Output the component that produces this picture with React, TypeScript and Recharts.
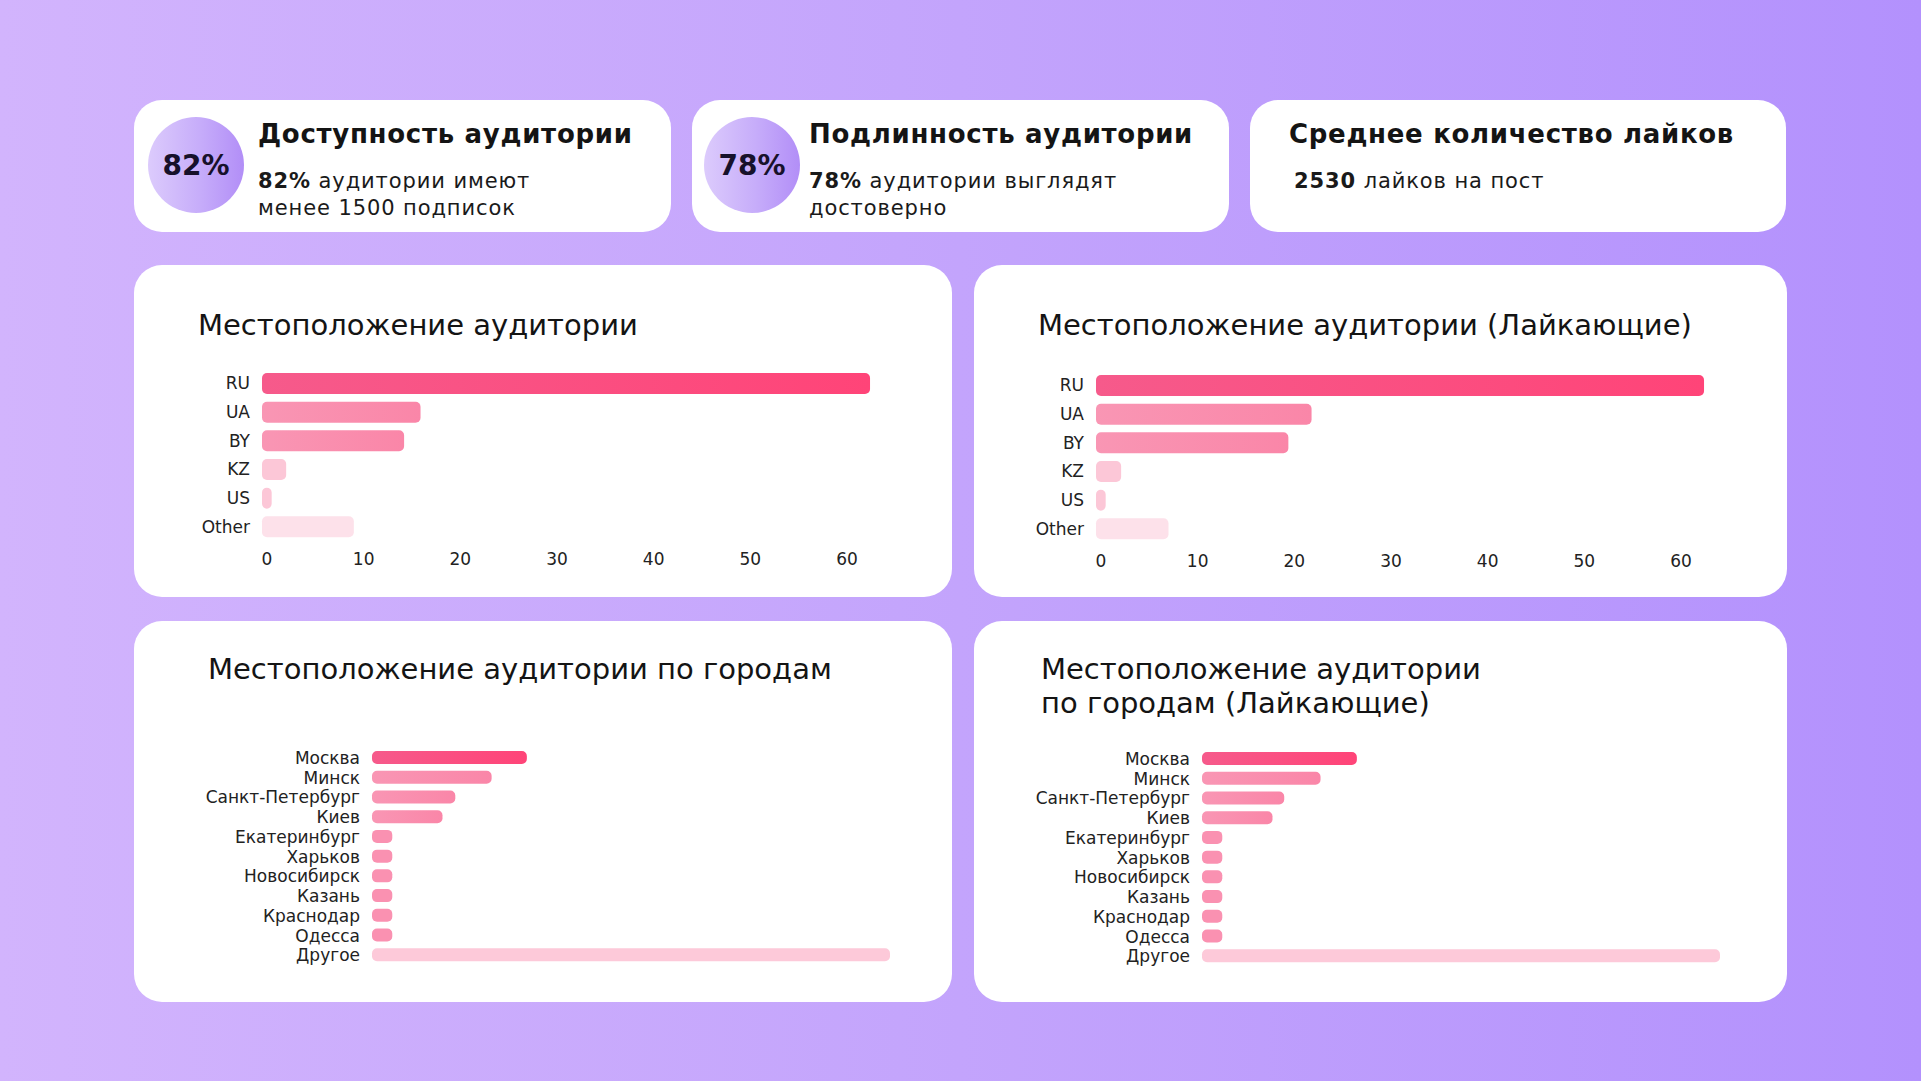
import React from 'react';
import { BarChart, Bar, XAxis, YAxis, Cell } from 'recharts';

const FONT = '"DejaVu Sans", sans-serif';

// Местоположение аудитории (%)
const countries = ['RU', 'UA', 'BY', 'KZ', 'US', 'Other'];
const audienceByCountry = [62.9, 16.4, 14.7, 2.5, 1.0, 9.5];
const likersByCountry = [62.9, 22.3, 19.9, 2.6, 1.0, 7.5];
const countryTicks = [0, 10, 20, 30, 40, 50, 60];
const countryFills = ['hot', 'mid', 'mid', 'light', 'light', 'pale'];

// Местоположение по городам (%)
const cities = [
  'Москва',
  'Минск',
  'Санкт-Петербург',
  'Киев',
  'Екатеринбург',
  'Харьков',
  'Новосибирск',
  'Казань',
  'Краснодар',
  'Одесса',
  'Другое'
];
const audienceByCity = [14.5, 11.2, 7.8, 6.6, 1.9, 1.9, 1.9, 1.9, 1.9, 1.9, 48.5];
const likersByCity = [14.5, 11.1, 7.7, 6.6, 1.9, 1.9, 1.9, 1.9, 1.9, 1.9, 48.5];
const cityFills = ['hot', 'mid', 'mid', 'mid', 'small', 'small', 'small', 'small', 'small', 'small', 'other'];

const Gradients = ({ prefix }: { prefix: string }) => (
  <defs>
    <linearGradient id={`${prefix}-hot`} x1="0" y1="0" x2="1" y2="0">
      <stop offset="0%" stopColor="#f65a8b" />
      <stop offset="100%" stopColor="#ff4478" />
    </linearGradient>
    <linearGradient id={`${prefix}-mid`} x1="0" y1="0" x2="1" y2="0">
      <stop offset="0%" stopColor="#f996b4" />
      <stop offset="100%" stopColor="#fa86a8" />
    </linearGradient>
  </defs>
);

const fillFor = (prefix: string, key: string) => {
  if (key === 'hot' || key === 'mid') return `url(#${prefix}-${key})`;
  if (key === 'light') return '#fcc7d7';
  if (key === 'pale') return '#fde1ea';
  if (key === 'small') return '#fa91b1';
  return '#fdc9d9';
};

const XTick = ({ x, y, payload }: any) => (
  <text x={x + 5} y={y} dy="0.71em" textAnchor="middle" fill="#222" fontSize={17} fontFamily={FONT}>
    {payload.value}
  </text>
);

const YTick = ({ x, y, payload }: any) => (
  <text x={x} y={y} dy="0.36em" textAnchor="end" fill="#222" fontSize={17} fontFamily={FONT}>
    {payload.value}
  </text>
);

interface HBarProps {
  id: string;
  labels: string[];
  values: number[];
  fills: string[];
  left: number;
  top: number;
  width: number;
  height: number;
  yWidth: number;
  marginTop: number;
  max: number;
  barSize: number;
  showX: boolean;
}

const HBar = ({ id, labels, values, fills, left, top, width, height, yWidth, marginTop, max, barSize, showX }: HBarProps) => {
  const data = labels.map((name, i) => ({ name, value: values[i] }));
  return (
    <div style={{ position: 'absolute', left, top }}>
      <BarChart
        width={width}
        height={height}
        data={data}
        layout="vertical"
        margin={{ top: marginTop, right: 0, left: 0, bottom: 0 }}
      >
        <Gradients prefix={id} />
        <XAxis
          type="number"
          domain={[0, max]}
          ticks={showX ? countryTicks : undefined}
          hide={!showX}
          axisLine={false}
          tickLine={false}
          tickSize={0}
          tickMargin={12}
          interval={0}
          height={30}
          tick={<XTick />}
        />
        <YAxis
          type="category"
          dataKey="name"
          width={yWidth}
          axisLine={false}
          tickLine={false}
          tickSize={0}
          tickMargin={12}
          interval={0}
          tick={<YTick />}
        />
        <Bar dataKey="value" barSize={barSize} radius={5} isAnimationActive={false}>
          {data.map((d, i) => (
            <Cell key={d.name} fill={fillFor(id, fills[i])} />
          ))}
        </Bar>
      </BarChart>
    </div>
  );
};

const Panel = ({ left, top, width, height }: { left: number; top: number; width: number; height: number }) => (
  <div
    style={{
      position: 'absolute',
      left,
      top,
      width,
      height,
      background: '#fff',
      borderRadius: 28
    }}
  />
);

const Circle = ({ cx, cy, text }: { cx: number; cy: number; text: string }) => (
  <div
    style={{
      position: 'absolute',
      left: cx - 48,
      top: cy - 48,
      width: 96,
      height: 96,
      borderRadius: '50%',
      background: 'linear-gradient(90deg, #dccbfc 0%, #c6acfa 55%, #b28ef7 100%)',
      display: 'flex',
      alignItems: 'center',
      justifyContent: 'center',
      fontFamily: FONT,
      fontWeight: 700,
      fontSize: 28,
      color: '#17112b'
    }}
  >
    {text}
  </div>
);

const titleStyle = (left: number, top: number): React.CSSProperties => ({
  position: 'absolute',
  left,
  top,
  fontFamily: FONT,
  fontWeight: 700,
  fontSize: 26,
  lineHeight: '26px',
  letterSpacing: 0.7,
  color: '#141414',
  whiteSpace: 'nowrap'
});

const subStyle = (left: number, top: number): React.CSSProperties => ({
  position: 'absolute',
  left,
  top,
  fontFamily: FONT,
  fontSize: 21,
  lineHeight: '27px',
  letterSpacing: 0.9,
  color: '#1a1a1a',
  whiteSpace: 'nowrap'
});

const chartTitle = (left: number, top: number): React.CSSProperties => ({
  position: 'absolute',
  left,
  top,
  fontFamily: FONT,
  fontSize: 29,
  lineHeight: '34px',
  letterSpacing: 0,
  color: '#141414',
  whiteSpace: 'nowrap'
});

export default function App() {
  return (
    <div
      style={{
        position: 'absolute',
        left: 0,
        top: 0,
        width: 1921,
        height: 1081,
        overflow: 'hidden',
        background: 'linear-gradient(90deg, #d2b4fd 0%, #c3a4fc 50%, #b391fd 100%)'
      }}
    >
      {/* верхние карточки */}
      <Panel left={134} top={100} width={537} height={132} />
      <Panel left={692} top={100} width={537} height={132} />
      <Panel left={1250} top={100} width={536} height={132} />

      <Circle cx={196} cy={165} text="82%" />
      <div style={titleStyle(258, 121)}>Доступность аудитории</div>
      <div style={subStyle(258, 168)}>
        <b>82%</b> аудитории имеют
        <br />
        менее 1500 подписок
      </div>

      <Circle cx={752} cy={165} text="78%" />
      <div style={titleStyle(809, 121)}>Подлинность аудитории</div>
      <div style={subStyle(809, 168)}>
        <b>78%</b> аудитории выглядят
        <br />
        достоверно
      </div>

      <div style={titleStyle(1289, 121)}>Среднее количество лайков</div>
      <div style={subStyle(1294, 168)}>
        <b>2530</b> лайков на пост
      </div>

      {/* страны */}
      <Panel left={134} top={265} width={818} height={332} />
      <Panel left={974} top={265} width={813} height={332} />
      <div style={chartTitle(198, 308)}>Местоположение аудитории</div>
      <div style={chartTitle(1038, 308)}>Местоположение аудитории (Лайкающие)</div>
      <HBar
        id="c1"
        labels={countries}
        values={audienceByCountry}
        fills={countryFills}
        left={150}
        top={360}
        width={721}
        height={211}
        yWidth={112}
        marginTop={9}
        max={63}
        barSize={21}
        showX
      />
      <HBar
        id="c2"
        labels={countries}
        values={likersByCountry}
        fills={countryFills}
        left={984}
        top={362}
        width={721}
        height={211}
        yWidth={112}
        marginTop={9}
        max={63}
        barSize={21}
        showX
      />

      {/* города */}
      <Panel left={134} top={621} width={818} height={381} />
      <Panel left={974} top={621} width={813} height={381} />
      <div style={chartTitle(208, 652)}>Местоположение аудитории по городам</div>
      <div style={chartTitle(1041, 652)}>
        Местоположение аудитории
        <br />
        по городам (Лайкающие)
      </div>
      <HBar
        id="g1"
        labels={cities}
        values={audienceByCity}
        fills={cityFills}
        left={202}
        top={743}
        width={688}
        height={222}
        yWidth={170}
        marginTop={5}
        max={48.5}
        barSize={13}
        showX={false}
      />
      <HBar
        id="g2"
        labels={cities}
        values={likersByCity}
        fills={cityFills}
        left={1032}
        top={744}
        width={688}
        height={222}
        yWidth={170}
        marginTop={5}
        max={48.5}
        barSize={13}
        showX={false}
      />
    </div>
  );
}
